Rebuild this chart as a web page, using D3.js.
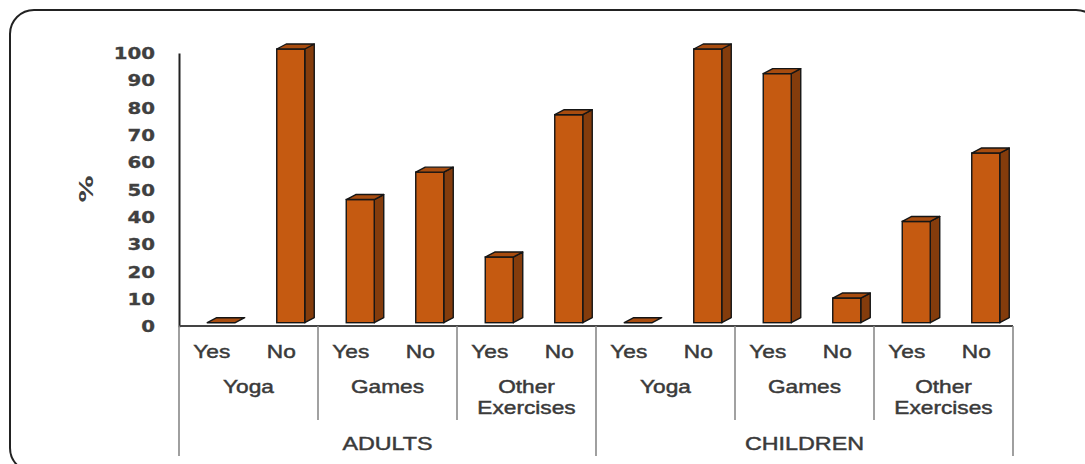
<!DOCTYPE html>
<html><head><meta charset="utf-8">
<script src="https://cdn.jsdelivr.net/npm/d3@7"></script>
<style>body{margin:0;background:#fff;} svg{display:block;}</style>
</head><body>
<svg id="chart" width="1085" height="464"></svg>
<script>
// ---- data ----
const groups = ["ADULTS", "CHILDREN"];
const activities = ["Yoga", "Games", "Other Exercises"];
const answers = ["Yes", "No"];
const adultValues = [0, 100, 45, 55, 24, 76];
const childValues = [0, 100, 91, 9, 37, 62];
const yTicks = [0, 10, 20, 30, 40, 50, 60, 70, 80, 90, 100];
const yLabel = "%";

// ---- build rows ----
const rows = [];
groups.forEach((g, gi) => {
  const vals = gi === 0 ? adultValues : childValues;
  activities.forEach((a, ai) => {
    answers.forEach((ans, k) => {
      rows.push({ group: g, activity: a, answer: ans, value: vals[ai * 2 + k], idx: rows.length });
    });
  });
});

const svg = d3.select("#chart");
const SX = 1.26;

// frame
svg.append("rect").attr("x", 10).attr("y", 10).attr("width", 1090).attr("height", 462)
  .attr("rx", 24).attr("fill", "none").attr("stroke", "#222").attr("stroke-width", 2);

const x = d3.scaleBand().domain(rows.map(d => d.idx)).range([179, 1013]).padding(0);
const y = d3.scaleLinear().domain([0, 100]).range([322.7, 49]);
const bw = x.bandwidth();
const baseY = 326;

// y axis
const yAxis = svg.append("g").attr("transform", "translate(179,4)")
  .call(d3.axisLeft(y).tickValues(yTicks).tickSize(0).tickSizeOuter(0).tickPadding(24));
yAxis.select(".domain").attr("stroke", "#222").attr("stroke-width", 2);
yAxis.selectAll("text")
  .attr("x", 0)
  .attr("transform", "translate(-24,0) scale(1.2,1)")
  .attr("text-anchor", "end")
  .attr("font-family", "DejaVu Sans").attr("font-weight", "bold").attr("font-size", 16.5)
  .attr("fill", "#404040").attr("stroke", "#404040").attr("stroke-width", 0.3);

// y label
svg.append("text").attr("transform", "translate(93,189) rotate(-90) scale(1.35,1)")
  .attr("text-anchor", "middle").attr("font-family", "DejaVu Sans").attr("font-weight", "bold")
  .attr("font-size", 20).attr("fill", "#404040").text(yLabel);

// bars
const dx = 9.5, dy = 5, fw = 28, off = 7.5;
const bars = svg.append("g").selectAll("g").data(rows).join("g");
bars.each(function (d) {
  const g = d3.select(this);
  const cx = x(d.idx) + bw / 2 + off;
  const x0 = cx - fw / 2, x1 = cx + fw / 2;
  const yt = y(d.value), yb = y(0);
  const stroke = "#151515", sw = 1.4;
  if (d.value > 0) {
    g.append("polygon").attr("points", [[x1, yt], [x1 + dx, yt - dy], [x1 + dx, yb - dy], [x1, yb]].join(" "))
      .attr("fill", "#843C0C").attr("stroke", stroke).attr("stroke-width", sw).attr("stroke-linejoin", "round");
    g.append("rect").attr("x", x0).attr("y", yt).attr("width", fw).attr("height", yb - yt)
      .attr("fill", "#C55A11").attr("stroke", stroke).attr("stroke-width", sw);
  }
  g.append("polygon").attr("points", [[x0, yt], [x0 + dx, yt - dy], [x1 + dx, yt - dy], [x1, yt]].join(" "))
    .attr("fill", "#A84C0F").attr("stroke", stroke).attr("stroke-width", sw).attr("stroke-linejoin", "round");
});

// baseline
svg.append("line").attr("x1", 179).attr("x2", 1013).attr("y1", baseY).attr("y2", baseY)
  .attr("stroke", "#444").attr("stroke-width", 2);

// separators
const sepColor = "#8a8a8a";
rows.forEach((d, i) => {
  if (i % 2 === 0) {
    const xx = x(d.idx);
    const outer = i % 6 === 0;
    svg.append("line").attr("x1", xx).attr("x2", xx).attr("y1", baseY).attr("y2", outer ? 456 : 420)
      .attr("stroke", outer ? "#888" : sepColor).attr("stroke-width", 1.6);
  }
});
svg.append("line").attr("x1", 1013).attr("x2", 1013).attr("y1", baseY).attr("y2", 456)
  .attr("stroke", "#888").attr("stroke-width", 1.6);

function label(tx, ty, txt, size) {
  svg.append("text").attr("transform", "translate(" + tx + "," + ty + ") scale(" + SX + ",1)")
    .attr("text-anchor", "middle").attr("font-family", "Liberation Sans, Arial, sans-serif")
    .attr("font-size", size).attr("fill", "#3a3a3a").attr("stroke", "#3a3a3a").attr("stroke-width", 0.45)
    .text(txt);
}

// answer labels
rows.forEach(d => label(x(d.idx) + bw / 2 - 2, 358, d.answer, 18));
// activity labels
for (let i = 0; i < rows.length; i += 2) {
  const cx = x(rows[i].idx) + bw;
  const words = rows[i].activity.split(" ");
  if (words.length === 1) label(cx, 393, words[0], 18);
  else { label(cx, 393, words[0], 18); label(cx, 414, words[1], 18); }
}
// group labels
for (let i = 0; i < rows.length; i += 6) {
  const cx = x(rows[i].idx) + bw * 3;
  label(cx, 450, rows[i].group, 18.5);
}
</script>
</body></html>
